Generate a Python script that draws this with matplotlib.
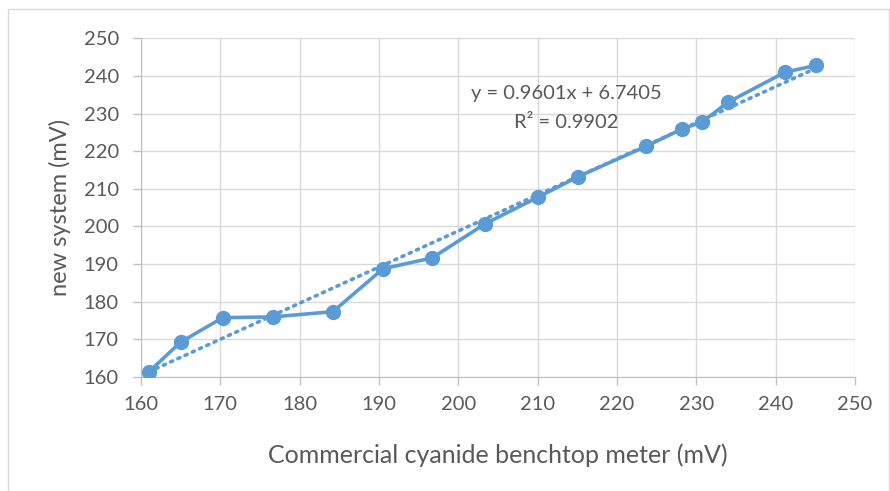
import numpy as np
import matplotlib
matplotlib.use('Agg')
import matplotlib.pyplot as plt
from matplotlib.patches import Rectangle

# Commercial meter vs new system readings (mV)
commercial = [161.0, 165.0, 170.3, 176.6, 184.2, 190.5, 196.7, 203.4, 210.1, 215.1,
              223.7, 228.2, 230.7, 234.0, 241.2, 245.1]
new_system = [161.3, 169.2, 175.7, 175.9, 177.3, 188.7, 191.6, 200.7, 207.8, 213.2,
              221.3, 225.9, 227.7, 233.0, 241.0, 242.8]
slope = 0.9601
intercept = 6.7405
r2 = 0.9902
ticks = [160, 170, 180, 190, 200, 210, 220, 230, 240, 250]

blue = '#5B9BD5'
gray = '#595959'
plt.rcParams['font.family'] = ['Lato', 'DejaVu Sans']

W, H = 890, 491
fig = plt.figure(figsize=(8.9, 4.91), dpi=100)
fig.patches.append(Rectangle((8 / W, -0.01), 881 / W, 1 - 9 / H + 0.01,
                             transform=fig.transFigure, fill=False,
                             edgecolor='#D9D9D9', linewidth=1))
ax = fig.add_axes([141 / W, 1 - 376.7 / H, 714 / W, 338.4 / H])

# trendline
tx = np.array([min(commercial), max(commercial)])
ax.plot(tx, slope * tx + intercept, linestyle=(0, (0.6, 1.6)), color=blue,
        linewidth=2.6, dash_capstyle='round', zorder=3)
ax.plot(commercial, new_system, color=blue, linewidth=2.6, marker='o',
        markersize=10, zorder=4)

fig.text(566 / W, 1 - 93 / H, f'y = {slope}x + {intercept}', fontsize=14.5,
         color=gray, ha='center', va='center')
fig.text(566 / W, 1 - 122 / H, f'R² = {r2}', fontsize=14.5,
         color=gray, ha='center', va='center')

ax.set_xlim(160, 250)
ax.set_ylim(160, 250)
ax.set_xticks(ticks)
ax.set_yticks(ticks)
ax.grid(True, color='#D9D9D9', linewidth=1)
ax.set_axisbelow(True)
for s in ['top', 'right']:
    ax.spines[s].set_visible(False)
for s in ['left', 'bottom']:
    ax.spines[s].set_color('#BFBFBF')
ax.tick_params(colors='#BFBFBF', labelcolor=gray, labelsize=14.5, length=6, width=1)
ax.tick_params(axis='y', pad=10)
ax.tick_params(axis='x', pad=8)
ax.set_xlabel('Commercial cyanide benchtop meter (mV)', fontsize=18, color=gray, labelpad=10)
ax.set_ylabel('new system (mV)', fontsize=17, color=gray, labelpad=8)
ax.xaxis.set_label_coords(0.5, -(455 - 376.7) / 338.4)
ax.yaxis.set_label_coords(-(141 - 60) / 714, 0.5)
for lab in [ax.xaxis.label, ax.yaxis.label]:
    lab.set_va('center')

fig.savefig('out.png', dpi=100)
